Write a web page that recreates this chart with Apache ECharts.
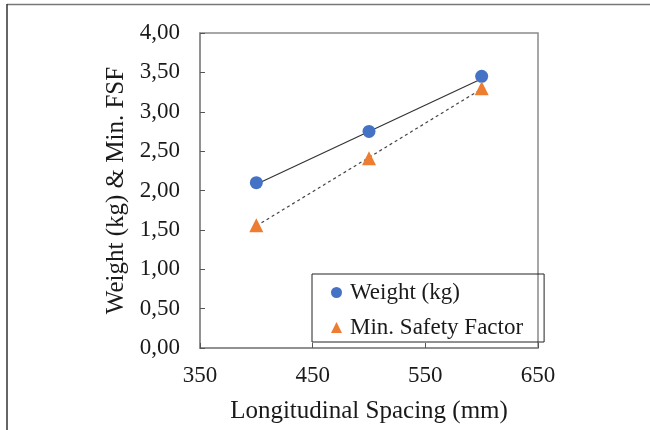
<!DOCTYPE html>
<html>
<head>
<meta charset="utf-8">
<script src="https://cdn.jsdelivr.net/npm/echarts@6/dist/echarts.min.js"></script>
<style>html,body{margin:0;padding:0;background:#fff}#c{width:650px;height:430px}</style>
</head>
<body>
<div id="c"></div>
<script>
const spacing = [400, 500, 600];
const weight = [2.10, 2.75, 3.45];
const safety = [1.56, 2.41, 3.30];
const trendX = [400, 600];
const weightTrend = [2.08, 3.42];
const safetyTrend = [1.55, 3.29];
const xTicks = [350, 450, 550, 650];
const yTicks = [0, 0.5, 1, 1.5, 2, 2.5, 3, 3.5, 4];

const font = '"Liberation Serif", "Times New Roman", serif';
const chart = echarts.init(document.getElementById('c'), null, {renderer: 'canvas'});
const pair = (xs, ys) => xs.map((x, i) => [x, ys[i]]);

chart.setOption({
  animation: false,
  backgroundColor: '#fff',
  graphic: [
    {type: 'line', shape: {x1: 7, y1: 4.5, x2: 650, y2: 4.5}, style: {stroke: '#777', lineWidth: 1.5}, silent: true},
    {type: 'line', shape: {x1: 7, y1: 4, x2: 7, y2: 430}, style: {stroke: '#333', lineWidth: 1.5}, silent: true}
  ],
  grid: {left: 200, top: 33, width: 338, height: 315, show: true, borderColor: '#8a8a8a', borderWidth: 1.5, backgroundColor: 'transparent'},
  legend: {
    orient: 'vertical', left: 312, top: 274,
    padding: [7, 21, 3, 19],
    itemGap: 12,
    borderColor: '#222', borderWidth: 1,
    itemWidth: 11, itemHeight: 11,
    textStyle: {fontFamily: font, fontSize: 23, lineHeight: 23, color: '#1a1a1a', padding: [0, 0, 0, 3]},
    data: [
      {name: 'Weight (kg)', icon: 'circle', itemStyle: {opacity: 1}},
      {name: 'Min. Safety Factor', icon: 'triangle', itemStyle: {opacity: 1}}
    ]
  },
  xAxis: {
    type: 'value', min: 350, max: 650, interval: 100,
    name: 'Longitudinal Spacing (mm)', nameLocation: 'middle', nameGap: 51,
    nameTextStyle: {fontFamily: font, fontSize: 25, color: '#1a1a1a'},
    axisLine: {show: true, lineStyle: {color: '#8a8a8a', width: 1.5}},
    axisTick: {show: true, inside: true, length: 5, lineStyle: {color: '#555'}},
    axisLabel: {fontFamily: font, fontSize: 23, color: '#1a1a1a', margin: 16,
      formatter: v => xTicks.includes(v) ? String(v) : ''},
    splitLine: {show: false}
  },
  yAxis: {
    type: 'value', min: 0, max: 4, interval: 0.5,
    name: 'Weight (kg) & Min. FSF', nameLocation: 'middle', nameGap: 68,
    nameTextStyle: {fontFamily: font, fontSize: 25, color: '#1a1a1a'},
    axisLine: {show: true, lineStyle: {color: '#8a8a8a', width: 1.5}},
    axisTick: {show: true, inside: true, length: 5, lineStyle: {color: '#555'}},
    axisLabel: {fontFamily: font, fontSize: 23, color: '#1a1a1a', margin: 20,
      formatter: v => yTicks.includes(v) ? v.toFixed(2).replace('.', ',') : ''},
    splitLine: {show: false}
  },
  series: [
    {name: 'trendW', type: 'line', data: pair(trendX, weightTrend), showSymbol: false, symbol: 'none',
      lineStyle: {color: '#333', width: 1.2, type: 'solid'}, z: 2, silent: true},
    {name: 'trendS', type: 'line', data: pair(trendX, safetyTrend), showSymbol: false, symbol: 'none',
      lineStyle: {color: '#444', width: 1.2, type: [3, 3]}, z: 2, silent: true},
    {name: 'Weight (kg)', type: 'scatter', data: pair(spacing, weight), symbol: 'circle', symbolSize: 13,
      itemStyle: {color: '#4472C4', opacity: 1}, z: 3},
    {name: 'Min. Safety Factor', type: 'scatter', data: pair(spacing, safety), symbol: 'triangle', symbolSize: 14,
      itemStyle: {color: '#ED7D31', opacity: 1}, z: 3}
  ]
});
</script>
</body>
</html>
